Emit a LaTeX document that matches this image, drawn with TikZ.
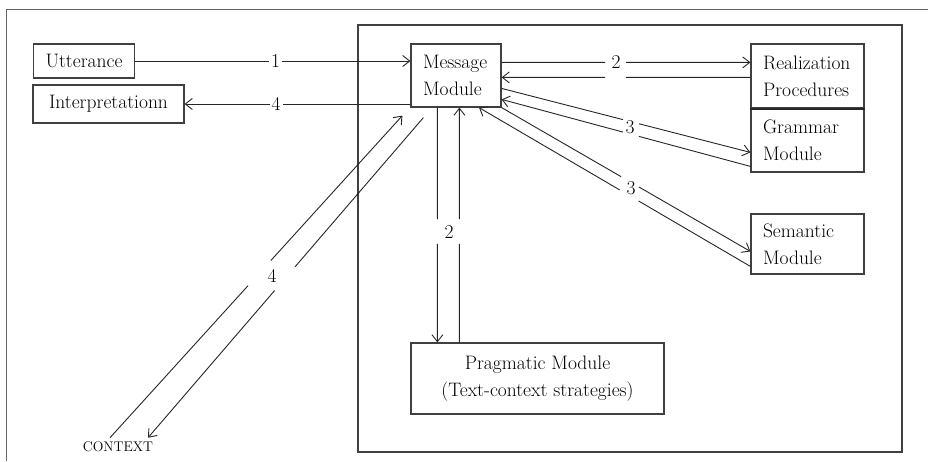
\documentclass[tikz,border=0pt]{standalone}
\usetikzlibrary{arrows.meta,calc}
\begin{document}
\begin{tikzpicture}[x=1pt,y=-1pt,
  every node/.style={font=\fontsize{19.5}{27}\selectfont, text=black},
  box/.style={draw=black!75, line width=1.2pt, inner ysep=0pt},
  lbox/.style={box, align=left, inner xsep=12pt},
  cbox/.style={box, align=center, inner xsep=0pt},
  conn/.style={draw=black!85, line width=0.9pt},
  arr/.style={conn, -{Straight Barb[length=7pt,width=11pt]}},
  lab/.style={fill=white, inner sep=2pt},
  numlab/.style={inner sep=0pt},
]
\useasboundingbox[fill=white] (0,0) rectangle (928,461);
% frames
\draw[black!60, line width=1pt] (6,461) -- (6,9) -- (928,9);
\draw[black!75, line width=1.2pt] (358,25) rectangle (902,452);
% boxes
\node[cbox, minimum width=101pt, minimum height=34pt] (utt) at (84,61) {Utterance};
\node[cbox, minimum width=151pt, minimum height=38pt] (interp) at (108.5,104) {Interpretationn};
\node[lbox, text width=66pt, minimum height=63pt] (msg) at (456,75.5) {Message\\Module};
\node[lbox, text width=89pt, minimum height=64pt] (real) at (807.5,76) {Realization\\Procedures};
\node[lbox, text width=89pt, minimum height=64pt] (gram) at (807.5,140) {Grammar\\Module};
\draw[black!85, line width=2pt] (real.south west) -- (real.south east);
\node[lbox, text width=89pt, minimum height=60pt] (sem) at (807.5,244) {Semantic\\Module};
\node[cbox, minimum width=253pt, minimum height=71pt] (prag) at (537.5,378.5) {Pragmatic Module\\(Text-context strategies)};
\node[font=\fontsize{14}{16}\selectfont, inner sep=0pt] (ctx) at (118,447) {CONTEXT};
% 1 and 4 horizontal
\draw[arr] (utt.east) -- (utt.east -| msg.west) node[lab, pos=0.51] (l1) {1};
\draw[arr] (msg.west |- interp.east) -- (interp.east) node[lab, pos=0.595] (l4a) {4};
% 2: message <-> realization
\coordinate (m2a) at ($(msg.north east)+(0,19)$);
\coordinate (r2a) at (m2a -| real.west);
\coordinate (m2b) at ($(msg.north east)+(0,34)$);
\coordinate (r2b) at (m2b -| real.west);
\draw[conn] (m2a) -- ($(m2a)!0.416!(r2a)$);
\draw[arr] ($(m2a)!0.5!(r2a)$) -- (r2a);
\draw[conn] (r2b) -- ($(r2b)!0.5!(m2b)$);
\draw[arr] ($(r2b)!0.584!(m2b)$) -- (m2b);
\node[numlab] (l2a) at ($(m2a)!0.46!(r2a)$) {2};
% 3: message <-> grammar
\coordinate (m3a) at ($(msg.north east)+(0,45)$);
\coordinate (g3a) at ($(gram.north west)+(0,45)$);
\coordinate (m3b) at ($(msg.north east)+(0,56)$);
\coordinate (g3b) at ($(gram.north west)+(0,59)$);
\draw[conn] (m3a) -- ($(m3a)!0.488!(g3a)$);
\draw[arr] ($(m3a)!0.552!(g3a)$) -- (g3a);
\draw[conn] (g3b) -- ($(g3b)!0.448!(m3b)$);
\draw[arr] ($(g3b)!0.512!(m3b)$) -- (m3b);
\node[numlab] (l3a) at (630,127) {3};
% 3: message <-> semantic
\coordinate (m3c) at (msg.south east);
\coordinate (s3c) at ($(sem.north west)+(0,38)$);
\coordinate (m3d) at ($(msg.south)+(23,0)$);
\coordinate (s3d) at ($(sem.north west)+(0,53)$);
\draw[conn] (m3c) -- ($(m3c)!0.48!(s3c)$);
\draw[arr] ($(m3c)!0.552!(s3c)$) -- (s3c);
\draw[conn] (s3d) -- ($(s3d)!0.412!(m3d)$);
\draw[arr] ($(s3d)!0.482!(m3d)$) -- (m3d);
\node[numlab] (l3b) at (631,188) {3};
% 2: message <-> pragmatic
\coordinate (m2c) at ($(msg.south west)+(27,0)$);
\coordinate (p2c) at (m2c |- prag.north);
\coordinate (m2d) at ($(msg.south west)+(49,0)$);
\coordinate (p2d) at (m2d |- prag.north);
\draw[conn] (m2c) -- ($(m2c)!0.475!(p2c)$);
\draw[arr] ($(m2c)!0.58!(p2c)$) -- (p2c);
\draw[conn] (p2d) -- ($(p2d)!0.42!(m2d)$);
\draw[arr] ($(p2d)!0.525!(m2d)$) -- (m2d);
\node[numlab] (l2b) at (449,232) {2};
% 4: context <-> message
\coordinate (c4a) at ($(ctx.north)+(-8,-4)$);
\coordinate (m4a) at ($(msg.south west)+(-8,8)$);
\coordinate (m4b) at ($(msg.south west)+(13,10)$);
\coordinate (c4b) at ($(ctx.north)+(30,-4)$);
\draw[conn] (c4a) -- ($(c4a)!0.472!(m4a)$);
\draw[arr] ($(c4a)!0.55!(m4a)$) -- (m4a);
\draw[conn] (m4b) -- ($(m4b)!0.466!(c4b)$);
\draw[arr] ($(m4b)!0.54!(c4b)$) -- (c4b);
\node[numlab] (l4b) at (272,276) {4};
\end{tikzpicture}
\end{document}
